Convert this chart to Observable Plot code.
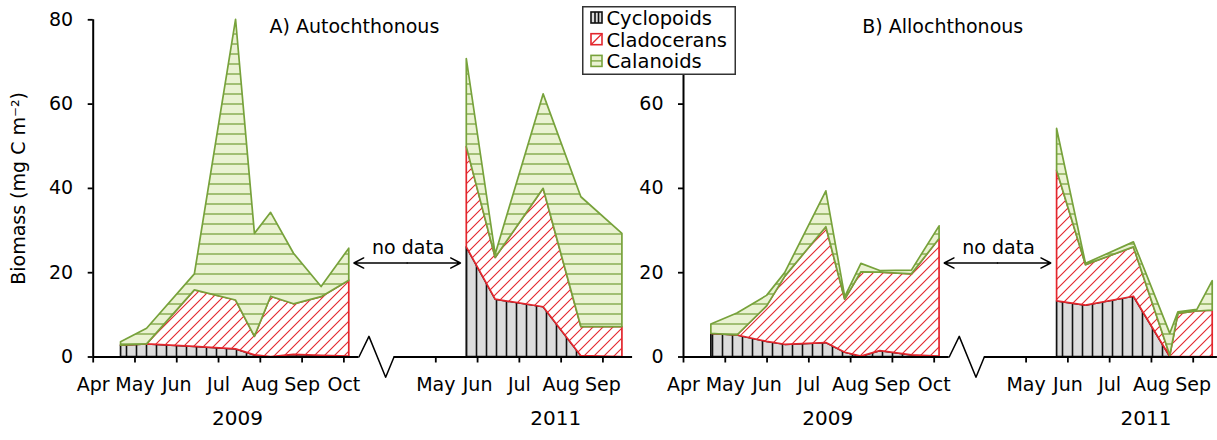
<!DOCTYPE html>
<html><head><meta charset="utf-8">
<script src="https://cdn.jsdelivr.net/npm/d3@7"></script>
<script src="https://cdn.jsdelivr.net/npm/@observablehq/plot@0.6"></script>
<style>
body{margin:0;background:#fff;}
#wrap{position:relative;width:1217px;height:440px;overflow:hidden;font-family:"DejaVu Sans";background:#fff;}
#left{position:absolute;left:0;top:0;}
#right{position:absolute;left:636px;top:0;}
#legend{position:absolute;left:582px;top:6px;}
</style></head><body>
<div id="wrap"><div id="left"></div><div id="right"></div><div id="legend"></div></div>
<script>
// ---------- data ----------
const species = ["Cyclopoids", "Cladocerans", "Calanoids"];
const yTicksA = [0, 20, 40, 60, 80];
const yTicksB = [0, 20, 40, 60];     // the 80 of panel B lies under the legend
const ticks2009 = ["2009-04-01","2009-05-01","2009-06-01","2009-07-01","2009-08-01","2009-09-01","2009-10-01"];
const tickLabels2009 = ["Apr","May","Jun","Jul","Aug","Sep","Oct"];
const ticks2011 = ["2011-05-01","2011-06-01","2011-07-01","2011-08-01","2011-09-01"];
const tickLabels2011 = ["May","Jun","Jul","Aug","Sep"];
const yearLabels = ["2009", "2011"];
const yearCenters = ["2009-07-15", "2011-07-28"];

// Panel A (Autochthonous)
const datesA2009 = ["2009-04-21","2009-05-10","2009-06-14","2009-07-14","2009-07-28","2009-08-09","2009-08-26","2009-09-15","2009-10-05"];
const cycA2009  = [2.7, 3.0, 2.4, 1.8, 0.4, 0.0, 0.5, 0.3, 0.1];
const cladA2009 = [0.0, 0.0, 13.4, 11.6, 4.4, 14.3, 12.0, 13.9, 18.0];
const calA2009  = [0.8, 3.7, 3.8, 66.6, 24.4, 19.9, 12.0, 2.4, 7.6];
const datesA2011 = ["2011-05-24","2011-06-14","2011-07-19","2011-08-16","2011-09-15"];
const cycA2011  = [26.0, 13.6, 11.8, 0.2, 0.0];
const cladA2011 = [23.8, 9.9, 28.1, 6.9, 7.1];
const calA2011  = [20.9, 0.8, 22.4, 30.8, 22.1];

// Panel B (Allochthonous)
const datesB2009 = ["2009-04-21","2009-05-10","2009-06-01","2009-06-14","2009-07-14","2009-07-28","2009-08-09","2009-08-23","2009-09-15","2009-10-05"];
const cycB2009  = [5.5, 5.1, 3.6, 2.9, 3.3, 1.0, 0.1, 1.4, 0.4, 0.1];
const cladB2009 = [0.0, 0.0, 8.4, 16.1, 27.5, 12.6, 20.0, 18.6, 19.2, 27.9];
const calB2009  = [2.2, 5.2, 2.5, 0.9, 8.5, 0.6, 2.0, 0.4, 0.9, 3.0];
const datesB2011 = ["2011-05-24","2011-06-14","2011-07-19","2011-08-15","2011-08-21","2011-09-04","2011-09-15"];
const cycB2011  = [13.2, 12.2, 14.3, 0.0, 0.0, 0.0, 0.0];
const cladB2011 = [31.0, 9.6, 11.7, 0.3, 10.2, 10.8, 11.0];
const calB2011  = [9.9, 0.3, 1.2, 5.2, 0.4, 0.4, 7.0];

// ---------- broken time axis ----------
const GAP = 8.2;            // axis position of 1 May 2011 (months after 1 Apr 2009)
const BREAK_FROM = 6.36, BREAK_TO = 7.2;
function pos(s) {
  const [y, m, d] = s.split("-").map(Number);
  const dim = new Date(y, m, 0).getDate();
  const f = m + (d - 1) / dim;
  return y === 2009 ? f - 4 : GAP + f - 5;
}
const tickPos = [...ticks2009, ...ticks2011].map(pos);
const tickLab = new Map(tickPos.map((p, i) => [p, [...tickLabels2009, ...tickLabels2011][i]]));

const strokes = {Cyclopoids: "#111", Cladocerans: "#e3262d", Calanoids: "#77a23b"};

function rows(prefix, blocks) {
  const out = [];
  for (const b of blocks) {
    species.forEach((sp, k) => {
      b.dates.forEach((dt, i) => out.push({
        pos: pos(dt), value: b.values[k][i], series: sp + b.year,
        fill: `url(#${prefix}${k})`, stroke: strokes[sp]
      }));
    });
  }
  return out;
}

function defs(svg, prefix) {
  const d = d3.select(svg).insert("defs", ":first-child");
  const p0 = d.append("pattern").attr("id", prefix + "0").attr("patternUnits", "userSpaceOnUse").attr("width", 10).attr("height", 10);
  p0.append("rect").attr("width", 10).attr("height", 10).attr("fill", "#dcdcdc");
  p0.append("line").attr("x1", 6.5).attr("x2", 6.5).attr("y1", -1).attr("y2", 11).attr("stroke", "#111").attr("stroke-width", 1.6);
  const p1 = d.append("pattern").attr("id", prefix + "1").attr("patternUnits", "userSpaceOnUse").attr("width", 10).attr("height", 10);
  p1.append("rect").attr("width", 10).attr("height", 10).attr("fill", "#fff");
  p1.append("path").attr("d", "M-1,1L1,-1M0,10L10,0M9,11L11,9").attr("stroke", "#e3262d").attr("stroke-width", 1.1);
  const p2 = d.append("pattern").attr("id", prefix + "2").attr("patternUnits", "userSpaceOnUse").attr("width", 10).attr("height", 10);
  p2.append("rect").attr("width", 10).attr("height", 10).attr("fill", "#eaf2d2");
  p2.append("line").attr("x1", -1).attr("x2", 11).attr("y1", 4).attr("y2", 4).attr("stroke", "#83a94a").attr("stroke-width", 1.4);
}

function panel({data, width, marginLeft, xMax, yTicks, title, titleX, prefix, yLabel}) {
  const marks = [
    Plot.areaY(data, {x: "pos", y: "value", z: "series", fill: "fill", stroke: "stroke", strokeWidth: 1.7}),
    Plot.ruleX([0], {stroke: "#000", strokeWidth: 2}),
    Plot.ruleY([0], {x1: 0, x2: BREAK_FROM, stroke: "#000", strokeWidth: 2}),
    Plot.ruleY([0], {x1: BREAK_TO, x2: xMax, stroke: "#000", strokeWidth: 2}),
    Plot.line([[BREAK_FROM, 0], [BREAK_FROM + 0.24, 4.9], [BREAK_FROM + 0.64, -4.8], [BREAK_TO, 0]], {stroke: "#000", strokeWidth: 1.5}),
    Plot.axisY({ticks: yTicks, tickSize: 5, tickPadding: 15, label: null, strokeWidth: 1.8}),
    Plot.axisX({ticks: tickPos, tickFormat: p => tickLab.get(p), tickSize: 6, tickPadding: 14.5, label: null, strokeWidth: 1.8}),
    Plot.text(yearLabels, {x: yearCenters.map(pos), frameAnchor: "bottom", dy: 68, fontSize: 20}),
    Plot.text(["no data"], {x: [7.54], y: [24.5], lineAnchor: "bottom"}),
    Plot.arrow([6.24, 8.79], {x1: 7.515, x2: d => d, y1: 22.3, y2: 22.3, stroke: "#000", strokeWidth: 1.5, headLength: 11, headAngle: 55}),
    Plot.text([title], {x: [titleX], y: [78.4], textAnchor: "start"})
  ];
  if (yLabel) marks.push(Plot.text([yLabel], {frameAnchor: "left", textAnchor: "middle", rotate: -90, dx: -74}));
  const svg = Plot.plot({
    width, height: 440, marginLeft, marginRight: width - marginLeft - xMax * 41.78,
    marginTop: 19.3, marginBottom: 83.5,
    x: {type: "linear", domain: [0, xMax]},
    y: {domain: [0, 80]},
    color: {type: "identity"},
    style: {fontFamily: "DejaVu Sans", fontSize: "19px", overflow: "visible", color: "#000", background: "transparent"},
    marks
  });
  defs(svg, prefix);
  return svg;
}

const dataA = rows("pA", [
  {year: 2009, dates: datesA2009, values: [cycA2009, cladA2009, calA2009]},
  {year: 2011, dates: datesA2011, values: [cycA2011, cladA2011, calA2011]}
]);
const dataB = rows("pB", [
  {year: 2009, dates: datesB2009, values: [cycB2009, cladB2009, calB2009]},
  {year: 2011, dates: datesB2011, values: [cycB2011, cladB2011, calB2011]}
]);

document.getElementById("left").append(panel({data: dataA, width: 636, marginLeft: 92.7, xMax: 12.91, yTicks: yTicksA,
  title: "A) Autochthonous", titleX: 4.22, prefix: "pA", yLabel: "Biomass (mg C m\u207B\u00B2)"}));
document.getElementById("right").append(panel({data: dataB, width: 581, marginLeft: 47, xMax: 12.78, yTicks: yTicksB,
  title: "B) Allochthonous", titleX: 4.28, prefix: "pB"}));

// ---------- legend ----------
const lg = d3.select("#legend").append("svg").attr("width", 155).attr("height", 70)
  .style("font-family", "DejaVu Sans").style("font-size", "19.5px").style("display", "block");
lg.append("rect").attr("x", 0.75).attr("y", 0.75).attr("width", 152.5).attr("height", 67.5)
  .attr("fill", "#fff").attr("stroke", "#333").attr("stroke-width", 1.5);
species.forEach((sp, k) => {
  const g = lg.append("g").attr("transform", `translate(9,${6 + k * 21.7})`);
  const col = strokes[sp];
  g.append("rect").attr("width", 11).attr("height", 11).attr("fill", ["#dcdcdc", "#fff", "#eaf2d2"][k])
    .attr("stroke", col).attr("stroke-width", 1.6);
  if (k === 0) { g.append("path").attr("d", "M4,0V11M7.5,0V11").attr("stroke", col).attr("stroke-width", 1.6); }
  if (k === 1) { g.append("path").attr("d", "M0,11L11,0").attr("stroke", col).attr("stroke-width", 1.3); }
  if (k === 2) { g.append("path").attr("d", "M0,5.5H11").attr("stroke", col).attr("stroke-width", 1.3); }
  lg.append("text").attr("x", 24.5).attr("y", 19 + k * 21.7).text(sp);
});
</script>
</body></html>
